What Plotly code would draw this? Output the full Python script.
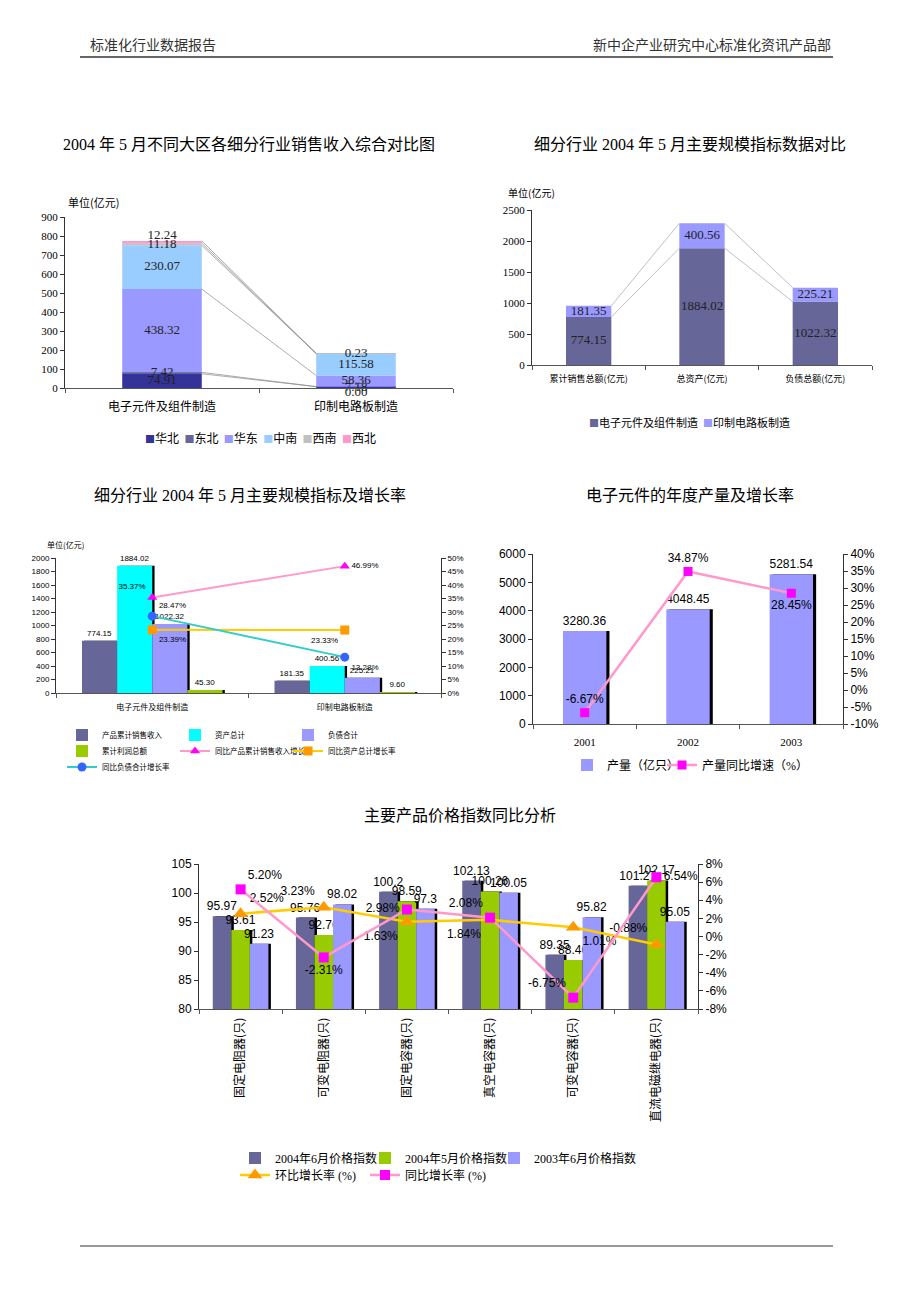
import plotly.graph_objects as go

W, H = 920, 1302


def px(x):
    return x / W


def py(y):
    return 1 - y / H


SERIF = "Liberation Serif, Noto Sans CJK SC, serif"
SANS = "Liberation Sans, Arial, Noto Sans CJK SC, sans-serif"
CJK = "Noto Sans CJK SC, sans-serif"

# ---------------- data ----------------
# Chart 1: sales revenue by region (亿元)
c1_categories = ["电子元件及组件制造", "印制电路板制造"]
c1_regions = ["华北", "东北", "华东", "中南", "西南", "西北"]
c1_huabei = [74.91, 7.18]
c1_dongbei = [7.42, 0.00]
c1_huadong = [438.32, 58.36]
c1_zhongnan = [230.07, 115.58]
c1_xinan = [11.18, 0.23]
c1_xibei = [12.24, 0.00]

# Chart 2: main scale indicators
c2_categories = ["累计销售总额(亿元)", "总资产(亿元)", "负债总额(亿元)"]
c2_series_names = ["电子元件及组件制造", "印制电路板制造"]
c2_electronic = [774.15, 1884.02, 1022.32]
c2_pcb = [181.35, 400.56, 225.21]

# Chart 3: indicators and growth
c3_categories = ["电子元件及组件制造", "印制电路板制造"]
c3_sales = [774.15, 181.35]
c3_assets = [1884.02, 400.56]
c3_liabilities = [1022.32, 225.21]
c3_profit = [45.30, 9.60]
c3_sales_growth = [0.3537, 0.4699]
c3_assets_growth = [0.2339, 0.2333]
c3_liab_growth = [0.2847, 0.1328]

# Chart 4: annual output
c4_years = ["2001", "2002", "2003"]
c4_output = [3280.36, 4048.45, 5281.54]
c4_growth = [-0.0667, 0.3487, 0.2845]

# Chart 5: price indices
c5_products = ["固定电阻器(只)", "可变电阻器(只)", "固定电容器(只)",
               "真空电容器(只)", "可变电容器(只)", "直流电磁继电器(只)"]
c5_jun04 = [95.97, 95.76, 100.2, 102.13, 89.35, 101.27]
c5_may04 = [93.61, 92.76, 98.59, 100.26, 88.46, 102.17]
c5_jun03 = [91.23, 98.02, 97.3, 100.05, 95.82, 95.05]
c5_mom = [0.0252, 0.0323, 0.0163, 0.0184, 0.0101, -0.0088]
c5_yoy = [0.0520, -0.0231, 0.0298, 0.0208, -0.0675, 0.0654]


def pct(v):
    return f"{v * 100:.2f}%"


fig = go.Figure()
legend_layout = {}


def leg(x, y, size, family):
    return dict(orientation="h", x=px(x), y=py(y), xanchor="left", yanchor="middle",
                font=dict(size=size, family=family, color="black"),
                bgcolor="rgba(0,0,0,0)", itemwidth=30, traceorder="normal",
                itemclick=False, itemdoubleclick=False)


legend_counter = [2]


def new_legend(x, y, size, family):
    legend_counter[0] += 1
    lid = f"legend{legend_counter[0]}"
    legend_layout[lid] = leg(x, y, size, family)
    return lid


# ---------------- chart 1 ----------------
c1_series = [c1_huabei, c1_dongbei, c1_huadong, c1_zhongnan, c1_xinan, c1_xibei]
c1_colors = ["#333399", "#666699", "#9999FF", "#99CCFF", "#C0C0C0", "#FF99CC"]
w1 = 0.41
x1 = list(range(len(c1_categories)))
base = [0.0] * len(x1)
labels1 = []
last = len(c1_series) - 1
for i, (name, vals, color) in enumerate(zip(c1_regions, c1_series, c1_colors)):
    fig.add_trace(go.Bar(x=x1, y=vals, base=base[:], width=w1, offset=-w1 / 2,
                         marker=dict(color=color, line=dict(width=0)), name=name,
                         showlegend=False, xaxis="x", yaxis="y", hoverinfo="skip"))
    mids = [b + v / 2 for b, v in zip(base, vals)]
    texts = [f"{v:.2f}" for v in vals]
    if i == last:
        texts = ["" if v == 0 else t for v, t in zip(vals, texts)]
        pos = ["top center"] * len(vals)
    else:
        pos = ["bottom center" if v == 0 else "middle center" for v in vals]
    labels1.append((mids, texts, pos))
    base = [b + v for b, v in zip(base, vals)]
    fig.add_trace(go.Scatter(x=[x1[0] + w1 / 2, x1[1] - w1 / 2], y=base, mode="lines",
                             line=dict(color="#8a8a8a", width=0.7), showlegend=False,
                             xaxis="x", yaxis="y", hoverinfo="skip"))
for mids, texts, pos in labels1:
    fig.add_trace(go.Scatter(x=x1, y=mids, mode="text", text=texts, textposition=pos,
                             textfont=dict(size=13, family=SERIF, color="#222"),
                             showlegend=False, xaxis="x", yaxis="y", cliponaxis=False,
                             hoverinfo="skip"))

# ---------------- chart 2 ----------------
w2 = 0.40
x2 = list(range(len(c2_categories)))
c2_colors = ["#666699", "#9999FF"]
base = [0.0] * len(x2)
for name, vals, color in zip(c2_series_names, [c2_electronic, c2_pcb], c2_colors):
    fig.add_trace(go.Bar(x=x2, y=vals, base=base[:], width=w2, offset=-w2 / 2,
                         marker=dict(color=color, line=dict(width=0)), name=name,
                         showlegend=False, xaxis="x2", yaxis="y2", hoverinfo="skip"))
    mids = [b + v / 2 for b, v in zip(base, vals)]
    base = [b + v for b, v in zip(base, vals)]
    lx, ly = [], []
    for k in range(len(x2) - 1):
        lx += [x2[k] + w2 / 2, x2[k + 1] - w2 / 2, None]
        ly += [base[k], base[k + 1], None]
    fig.add_trace(go.Scatter(x=lx, y=ly, mode="lines", line=dict(color="#b0b0b0", width=0.8),
                             showlegend=False, xaxis="x2", yaxis="y2", hoverinfo="skip"))
    fig.add_trace(go.Scatter(x=x2, y=mids, mode="text", text=[f"{v:.2f}" for v in vals],
                             textfont=dict(size=13, family=SERIF, color="#222"),
                             showlegend=False, xaxis="x2", yaxis="y2", cliponaxis=False,
                             hoverinfo="skip"))

# ---------------- chart 3 ----------------
x3 = list(range(len(c3_categories)))
w3 = 0.1825
c3_bars = [("产品累计销售收入", c3_sales, "#666699", (62, 735)),
           ("资产总计", c3_assets, "#00FFFF", (175, 735)),
           ("负债合计", c3_liabilities, "#9999FF", (288, 735)),
           ("累计利润总额", c3_profit, "#99CC00", (62, 751))]
for j, (name, vals, color, lp) in enumerate(c3_bars):
    fig.add_trace(go.Bar(x=x3, y=vals, width=w3, offset=-2 * w3 + j * w3 + 0.012,
                         marker=dict(color="black", line=dict(width=0)), showlegend=False,
                         xaxis="x3", yaxis="y3", hoverinfo="skip"))
for j, (name, vals, color, lp) in enumerate(c3_bars):
    fig.add_trace(go.Bar(x=x3, y=vals, width=w3, offset=-2 * w3 + j * w3,
                         marker=dict(color=color, line=dict(width=0)), name=name,
                         text=[f"{v:.2f}" for v in vals], textposition="outside",
                         constraintext="none",
                         textfont=dict(size=8, family=SANS, color="black"), cliponaxis=False,
                         legend=new_legend(lp[0], lp[1], 7.5, CJK),
                         xaxis="x3", yaxis="y3", hoverinfo="skip"))
c3_lines = [("同比产品累计销售收入增长率", c3_sales_growth, "#FF99CC", "#FF00FF", "triangle-up",
             ["top left", "middle right"], (175, 751)),
            ("同比资产总计增长率", c3_assets_growth, "#FFCC00", "#FF9900", "square",
             ["bottom right", "bottom left"], (288, 751)),
            ("同比负债合计增长率", c3_liab_growth, "#33CCCC", "#3366FF", "circle",
             ["top right", "bottom right"], (62, 767))]
for name, vals, lc, mc, sym, tp, lp in c3_lines:
    fig.add_trace(go.Scatter(x=x3, y=vals, mode="lines+markers+text", name=name,
                             line=dict(color=lc, width=2),
                             marker=dict(color=mc, symbol=sym, size=9),
                             text=[pct(v) for v in vals], textposition=tp,
                             textfont=dict(size=8, family=SANS, color="black"),
                             cliponaxis=False, legend=new_legend(lp[0], lp[1], 7.5, CJK),
                             xaxis="x3", yaxis="y4", hoverinfo="skip"))

# ---------------- chart 4 ----------------
x4 = list(range(len(c4_years)))
w4 = 0.42
fig.add_trace(go.Bar(x=x4, y=c4_output, width=w4, offset=-w4 / 2 + 0.03,
                     marker=dict(color="black", line=dict(width=0)), showlegend=False,
                     xaxis="x4", yaxis="y5", hoverinfo="skip"))
fig.add_trace(go.Bar(x=x4, y=c4_output, width=w4, offset=-w4 / 2,
                     marker=dict(color="#9999FF", line=dict(width=0)), name="产量（亿只）",
                     text=[f"{v:.2f}" for v in c4_output], textposition="outside",
                     constraintext="none",
                     textfont=dict(size=12, family=SANS, color="black"), cliponaxis=False,
                     legend=new_legend(567, 765, 12, SERIF),
                     xaxis="x4", yaxis="y5", hoverinfo="skip"))
fig.add_trace(go.Scatter(x=x4, y=c4_growth, mode="lines+markers+text", name="产量同比增速（%）",
                         line=dict(color="#FF99CC", width=2.5),
                         marker=dict(color="#FF00FF", symbol="square", size=9),
                         text=[pct(v) for v in c4_growth],
                         textposition=["top center", "top center", "bottom center"],
                         textfont=dict(size=12, family=SANS, color="black"), cliponaxis=False,
                         legend=new_legend(662, 765, 12, SERIF),
                         xaxis="x4", yaxis="y6", hoverinfo="skip"))

# ---------------- chart 5 ----------------
x5 = list(range(len(c5_products)))
w5 = 0.223
c5_bars = [("2004年6月价格指数", c5_jun04, "#666699", (235, 1158)),
           ("2004年5月价格指数", c5_may04, "#99CC00", (365, 1158)),
           ("2003年6月价格指数", c5_jun03, "#9999FF", (494, 1158))]
for j, (name, vals, color, lp) in enumerate(c5_bars):
    fig.add_trace(go.Bar(x=x5, y=vals, width=w5, offset=-1.5 * w5 + j * w5 + 0.03,
                         marker=dict(color="black", line=dict(width=0)), showlegend=False,
                         xaxis="x5", yaxis="y7", hoverinfo="skip"))
for j, (name, vals, color, lp) in enumerate(c5_bars):
    fig.add_trace(go.Bar(x=x5, y=vals, width=w5, offset=-1.5 * w5 + j * w5,
                         marker=dict(color=color, line=dict(width=0)), name=name,
                         text=[f"{v}" for v in vals], textposition="outside",
                         constraintext="none",
                         textfont=dict(size=12, family=SANS, color="black"), cliponaxis=False,
                         legend=new_legend(lp[0], lp[1], 12, SERIF),
                         xaxis="x5", yaxis="y7", hoverinfo="skip"))
fig.add_trace(go.Scatter(x=x5, y=c5_mom, mode="lines+markers+text", name="环比增长率 (%)",
                         line=dict(color="#FFCC00", width=2.5),
                         marker=dict(color="#FF9900", symbol="triangle-up", size=13),
                         text=[pct(v) for v in c5_mom],
                         textposition=["top right", "top left", "bottom left", "bottom left",
                                       "bottom right", "top left"],
                         textfont=dict(size=12, family=SANS, color="black"), cliponaxis=False,
                         legend=new_legend(235, 1175, 12, SERIF),
                         xaxis="x5", yaxis="y8", hoverinfo="skip"))
fig.add_trace(go.Scatter(x=x5, y=c5_yoy, mode="lines+markers+text", name="同比增长率 (%)",
                         line=dict(color="#FF99CC", width=2.5),
                         marker=dict(color="#FF00FF", symbol="square", size=10),
                         text=[pct(v) for v in c5_yoy],
                         textposition=["top right", "bottom center", "middle left", "top left",
                                       "top left", "middle right"],
                         textfont=dict(size=12, family=SANS, color="black"), cliponaxis=False,
                         legend=new_legend(365, 1175, 12, SERIF),
                         xaxis="x5", yaxis="y8", hoverinfo="skip"))


# ---------------- axes ----------------
def xax(domain, n, ticktext, anchor, fontsize, family, standoff, tickangle=0):
    return dict(domain=domain, range=[-0.5, n - 0.5], anchor=anchor,
                tickmode="array", tickvals=list(range(n)), ticktext=ticktext,
                ticks="", showline=True, linecolor="#555", linewidth=1,
                showgrid=False, zeroline=False, tickangle=tickangle, automargin=False,
                ticklabelstandoff=standoff,
                tickfont=dict(size=fontsize, family=family, color="black"),
                minor=dict(tickmode="array", tickvals=[k - 0.5 for k in range(n + 1)],
                           ticks="outside", ticklen=4, tickcolor="#555", showgrid=False))


def yax(domain, rng, dtick, anchor, fontsize, family, side="left", overlaying=None,
        tickvals=None, ticktext=None):
    d = dict(domain=domain, range=rng, anchor=anchor, side=side, dtick=dtick,
             ticks="outside", ticklen=4, tickcolor="#333", showline=True,
             linecolor="#333", linewidth=1, showgrid=False, zeroline=False, automargin=False,
             tickfont=dict(size=fontsize, family=family, color="black"))
    if overlaying:
        d["overlaying"] = overlaying
    if tickvals is not None:
        d.update(tickmode="array", tickvals=tickvals, ticktext=ticktext)
    return d


c3_pct_ticks = [k * 0.05 for k in range(11)]
c4_pct_ticks = [-0.10 + k * 0.05 for k in range(11)]
c5_pct_ticks = [-0.08 + k * 0.02 for k in range(9)]

layout_axes = dict(
    xaxis=xax([px(65), px(453)], 2, c1_categories, "y", 12, CJK, 8),
    yaxis=yax([py(388), py(217)], [0, 900], 100, "x", 11, SERIF),
    xaxis2=xax([px(532), px(872)], 3, c2_categories, "y2", 9, CJK, 5),
    yaxis2=yax([py(365), py(210)], [0, 2500], 500, "x2", 11, SERIF),
    xaxis3=xax([px(56), px(441)], 2, c3_categories, "y3", 8, CJK, 6),
    yaxis3=yax([py(693), py(558)], [0, 2000], 200, "x3", 8, SANS),
    yaxis4=yax([py(693), py(558)], [0, 0.5], 0.05, "x3", 8, SANS, side="right",
               overlaying="y3", tickvals=c3_pct_ticks,
               ticktext=[f"{v:.0%}" for v in c3_pct_ticks]),
    xaxis4=xax([px(533), px(843)], 3, c4_years, "y5", 11, SERIF, 8),
    yaxis5=yax([py(724), py(554)], [0, 6000], 1000, "x4", 12, SANS),
    yaxis6=yax([py(724), py(554)], [-0.10, 0.40], 0.05, "x4", 12, SANS, side="right",
               overlaying="y5", tickvals=c4_pct_ticks,
               ticktext=[f"{v:.0%}" for v in c4_pct_ticks]),
    xaxis5=xax([px(199), px(698)], 6, c5_products, "y7", 12, CJK, 3, tickangle=-90),
    yaxis7=yax([py(1009), py(864)], [80, 105], 5, "x5", 12, SANS),
    yaxis8=yax([py(1009), py(864)], [-0.08, 0.08], 0.02, "x5", 12, SANS, side="right",
               overlaying="y7", tickvals=c5_pct_ticks,
               ticktext=[f"{v:.0%}" for v in c5_pct_ticks]),
)


def ann(text, x, y, size, family, xanchor="center", color="black"):
    return dict(text=text, x=px(x), y=py(y), xref="paper", yref="paper",
                xanchor=xanchor, yanchor="middle", showarrow=False,
                font=dict(size=size, family=family, color=color))


def swatch_legend(names, colors):
    return "  ".join(f'<span style="color:{c};font-size:10px">■</span>{n}'
                     for n, c in zip(names, colors))


annotations = [
    ann("标准化行业数据报告", 88, 44, 14, CJK, "left", "#333"),
    ann("新中企产业研究中心标准化资讯产品部", 833, 44, 14, CJK, "right", "#333"),
    ann("2004 年 5 月不同大区各细分行业销售收入综合对比图", 249, 145, 16, SERIF),
    ann("细分行业 2004 年 5 月主要规模指标数据对比", 690, 145, 16, SERIF),
    ann("细分行业 2004 年 5 月主要规模指标及增长率", 250, 495, 16, SERIF),
    ann("电子元件的年度产量及增长率", 690, 495, 16, SERIF),
    ann("主要产品价格指数同比分析", 460, 815, 16, SERIF),
    ann("单位(亿元)", 66, 202, 11, CJK, "left"),
    ann("单位(亿元)", 506, 193, 10, CJK, "left"),
    ann("单位(亿元)", 45, 545, 8, CJK, "left"),
    ann(swatch_legend(c1_regions, c1_colors), 260, 437, 12, CJK),
    ann(swatch_legend(c2_series_names, c2_colors), 689, 422, 11, CJK),
]

shapes = [
    dict(type="line", xref="paper", yref="paper", x0=px(80), x1=px(833), y0=py(57), y1=py(57),
         line=dict(color="#333", width=1.5)),
    dict(type="line", xref="paper", yref="paper", x0=px(80), x1=px(833), y0=py(1246),
         y1=py(1246), line=dict(color="#333", width=1)),
]

fig.update_layout(
    width=W, height=H, margin=dict(l=0, r=0, t=0, b=0, pad=0, autoexpand=False),
    autosize=False,
    paper_bgcolor="white", plot_bgcolor="white",
    barmode="group", bargap=0.3, bargroupgap=0,
    hovermode=False, annotations=annotations, shapes=shapes,
    font=dict(family=CJK, color="black"),
    showlegend=True, legend=dict(visible=False),
    **layout_axes, **legend_layout,
)

fig.write_html("out.html", config={"displayModeBar": False},
               post_script="document.body.style.margin='0';document.body.style.overflow='hidden';")
